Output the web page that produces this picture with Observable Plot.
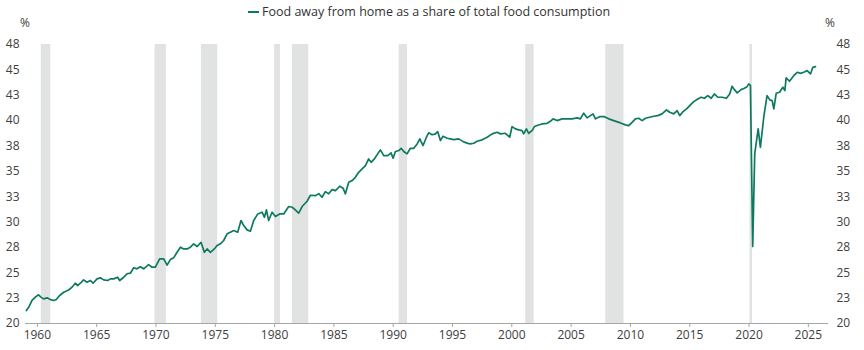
<!DOCTYPE html>
<html><head><meta charset="utf-8">
<script src="https://cdn.jsdelivr.net/npm/d3@7"></script>
<script src="https://cdn.jsdelivr.net/npm/@observablehq/plot@0.6"></script>
<style>
body{margin:0;background:#fff;font-family:"Open Sans",sans-serif;}
#wrap{position:relative;width:864px;height:350px;overflow:hidden;}
.lg{position:absolute;top:3px;left:248px;font-size:12.5px;color:#333;display:flex;align-items:center;white-space:nowrap;line-height:18px}
.sw{display:inline-block;width:11px;height:2px;background:#0d7a5f;margin-right:3px}
.pct{position:absolute;top:15px;font-size:12px;color:#404040;line-height:16px}
</style></head><body><div id="wrap">
<div class="lg"><span class="sw"></span><span>Food away from home as a share of total food consumption</span></div>
<div class="pct" style="left:20px">%</div>
<div class="pct" style="left:825px">%</div>
</div>
<script>
const years = [
1959.07,1959.27,1959.55,1959.83,1960.1,1960.3,1960.53,1960.82,1961.1,1961.38,1961.6,1961.88,1962.22,1962.64,1962.92,1963.2,1963.4,1963.63,1963.9,1964.19,1964.47,1964.7,1965.03,1965.31,1965.59,1965.93,1966.16,1966.43,1966.77,1966.94,1967.28,1967.56,1967.84,1968.12,1968.4,1968.68,1968.96,1969.38,1969.67,1969.95,
1970.31,1970.65,1970.94,1971.21,1971.49,1971.78,1972.06,1972.34,1972.62,1972.9,1973.18,1973.47,1973.8,1974.08,1974.31,1974.59,1974.92,1975.15,1975.43,1975.71,1976.0,1976.27,1976.55,1976.89,1977.17,1977.4,1977.68,1977.96,1978.24,1978.58,1978.95,1979.14,1979.31,1979.5,1979.79,1980.07,1980.43,1980.77,1981.19,1981.48,1981.75,1982.03,1982.32,1982.74,
1983.02,1983.44,1983.72,1984.0,1984.28,1984.56,1984.85,1985.13,1985.49,1985.78,1985.97,1986.25,1986.54,1986.81,1987.09,1987.38,1987.66,1987.93,1988.14,1988.41,1988.69,1988.92,1989.2,1989.54,1989.82,1989.99,1990.19,1990.47,1990.67,1990.89,1991.17,1991.45,1991.73,1992.02,1992.24,1992.52,1992.8,1992.99,1993.28,1993.56,1993.75,1993.98,1994.2,1994.55,1994.82,1995.1,1995.52,
1995.94,1996.3,1996.51,1996.79,1997.07,1997.5,1997.92,1998.34,1998.76,1999.04,1999.46,1999.82,2000.02,2000.3,2000.58,2000.87,2001.0,2001.23,2001.42,2001.71,2001.91,2002.13,2002.55,2002.98,2003.25,2003.48,2003.82,2004.24,2004.66,2005.08,2005.51,2005.78,2006.06,2006.35,2006.63,2006.85,2007.05,2007.41,2007.81,2008.17,2008.59,
2009.16,2009.58,2009.86,2010.14,2010.42,2010.7,2010.99,2011.27,2011.63,2011.97,2012.3,2012.67,2013.04,2013.32,2013.65,2013.94,2014.16,2014.44,2014.78,2015.06,2015.34,2015.68,2015.96,2016.24,2016.52,2016.81,2017.08,2017.36,2017.73,2018.09,2018.37,2018.57,2018.77,2019.0,2019.33,2019.61,2019.8,2019.98,2020.12,
2020.31,2020.48,2020.77,2020.96,2021.24,2021.52,2021.75,2021.95,2022.09,2022.29,2022.57,2022.85,2023.02,2023.13,2023.41,2023.77,2024.06,2024.34,2024.62,2024.9,2025.18,2025.38,2025.6
];
const shares = [
21.28,21.6,22.27,22.6,22.83,22.6,22.43,22.53,22.36,22.27,22.36,22.76,23.08,23.3,23.58,23.97,23.74,23.97,24.3,24.07,24.24,23.97,24.4,24.5,24.3,24.24,24.4,24.4,24.56,24.24,24.56,24.9,24.96,25.49,25.39,25.6,25.39,25.8,25.55,25.55,
26.37,26.37,25.75,26.3,26.47,27.02,27.52,27.35,27.35,27.52,27.85,27.59,28.0,27.02,27.35,27.02,27.35,27.68,27.85,28.18,28.84,29.0,29.16,29.0,30.15,29.65,29.23,29.1,30.15,30.8,30.97,30.47,31.2,30.15,30.97,30.54,30.8,30.8,31.53,31.46,31.2,30.87,31.53,32.05,
32.64,32.6,32.8,32.44,33.0,32.78,33.2,33.1,33.53,33.33,32.78,33.92,34.09,34.41,34.9,35.24,35.57,36.22,35.89,36.22,36.72,37.11,36.55,36.55,36.82,36.29,36.95,37.05,37.27,36.95,36.72,37.27,37.27,37.7,38.2,37.54,38.36,38.8,38.6,38.69,38.92,38.03,38.45,38.26,38.2,38.13,38.2,
37.9,37.75,37.7,37.77,37.96,38.1,38.36,38.69,38.85,38.69,38.75,38.36,39.41,39.18,39.08,39.01,38.69,39.18,38.75,39.01,39.41,39.51,39.67,39.73,39.93,40.17,40.0,40.17,40.17,40.17,40.27,40.17,40.73,40.27,40.49,40.66,40.17,40.39,40.39,40.17,40.0,
39.77,39.58,39.51,39.83,40.17,40.23,40.0,40.23,40.33,40.43,40.49,40.66,41.05,40.82,40.66,40.98,40.49,40.89,41.21,41.54,41.87,42.13,42.3,42.2,42.46,42.2,42.63,42.3,42.3,42.2,42.63,43.38,43.05,42.73,43.05,43.18,43.3,43.62,43.45,
27.6,36.72,39.18,37.37,40.33,42.46,42.04,41.97,41.15,42.69,42.79,43.28,42.96,44.21,43.88,44.43,44.76,44.66,44.76,44.93,44.6,45.25,45.32
];
const recessionStart = [1960.33,1969.92,1973.83,1980.0,1981.5,1990.5,2001.17,2007.92,2020.08];
const recessionEnd   = [1961.13,1970.88,1975.21,1980.5,1982.88,1991.21,2001.88,2009.46,2020.29];
const xTicks = [1960,1965,1970,1975,1980,1985,1990,1995,2000,2005,2010,2015,2020,2025];
const yTicks = [20,22.5,25,27.5,30,32.5,35,37.5,40,42.5,45,47.5];

const series = years.map((t, i) => ({t, v: shares[i]}));
const recessions = recessionStart.map((s, i) => ({s, e: recessionEnd[i]}));
const fmtY = d => String(Math.round(d));

const chart = Plot.plot({
  width: 864, height: 350,
  marginTop: 44, marginBottom: 27, marginLeft: 25, marginRight: 36,
  style: {fontFamily: "'Open Sans', sans-serif", fontSize: "12px", color: "#404040", background: "transparent"},
  x: {domain: [1959, 2026.7], label: null},
  y: {domain: [20, 47.5], label: null},
  marks: [
    Plot.rect(recessions, {x1: "s", x2: "e", fill: "#e1e2e2"}),
    Plot.ruleY([20], {stroke: "#a6a6a6", strokeWidth: 1.2}),
    Plot.axisX({ticks: xTicks, tickFormat: d => String(d), tickSize: 4, tickPadding: 3, stroke: "#a6a6a6", label: null}),
    Plot.axisY({anchor: "left", ticks: yTicks, tickFormat: fmtY, tickSize: 0, tickPadding: 6, label: null}),
    Plot.axisY({anchor: "right", ticks: yTicks, tickFormat: fmtY, tickSize: 0, tickPadding: 8, label: null}),
    Plot.line(series, {x: "t", y: "v", stroke: "#0d7a5f", strokeWidth: 1.7})
  ]
});
chart.style.position = "absolute";
chart.style.left = "0";
chart.style.top = "0";
document.getElementById("wrap").prepend(chart);
</script>
</body></html>
